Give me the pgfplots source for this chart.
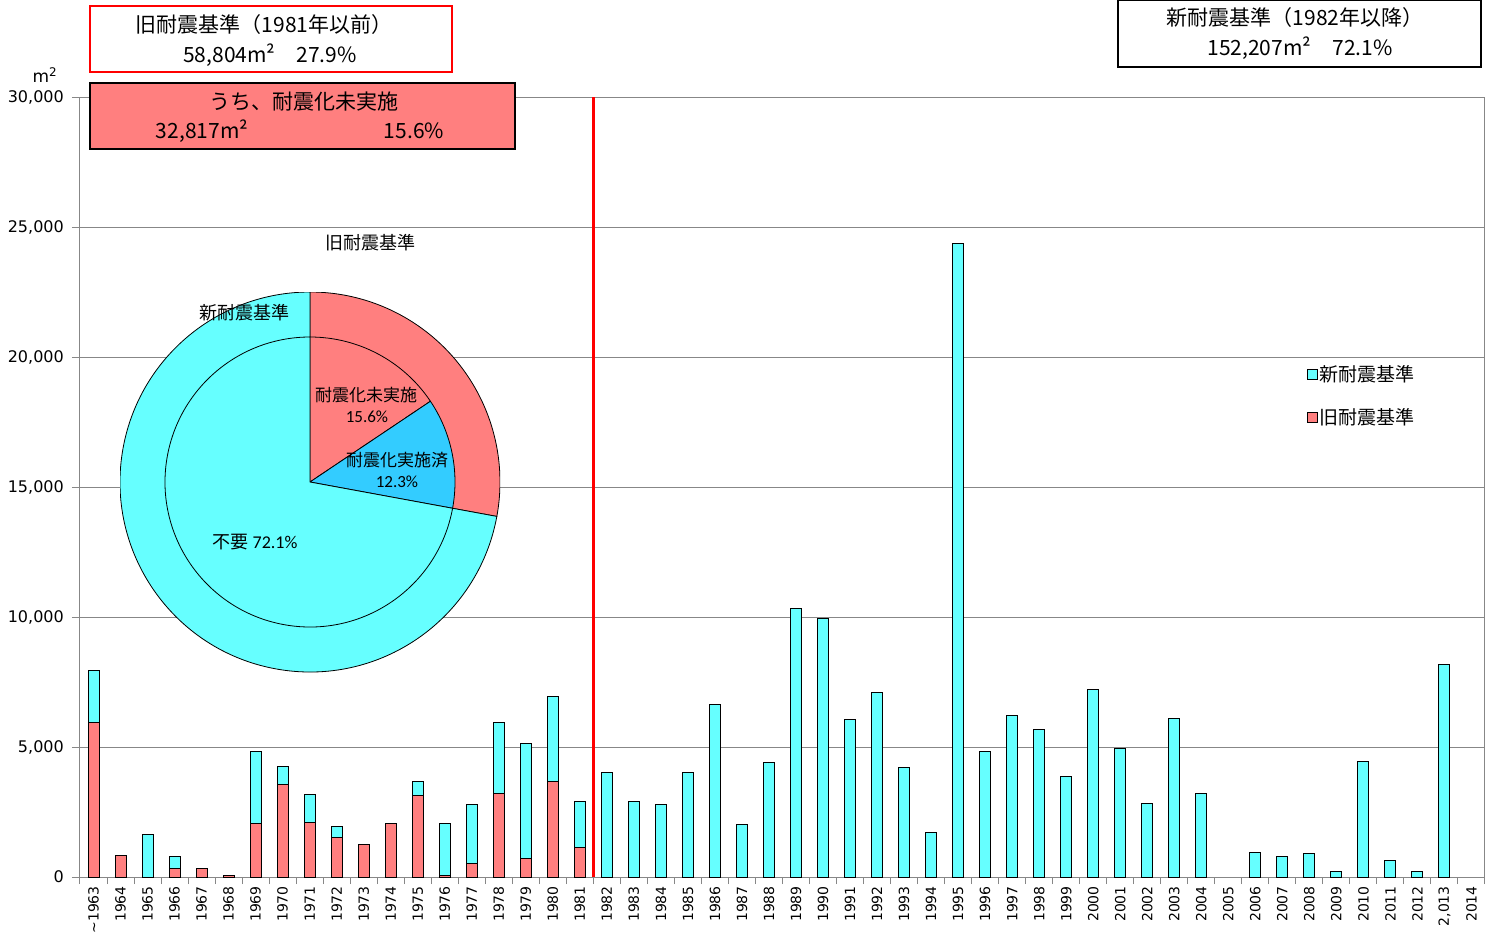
\documentclass[border=0pt]{standalone}
\usepackage{pgfplots}
\usepackage{pgfplotstable}
\pgfplotsset{compat=1.18}
\usepackage{fontspec}
\setmainfont{DejaVu Sans}
\newfontfamily\jp{Noto Sans CJK JP}
\newfontfamily\carl{Carlito}
\definecolor{cyanbar}{HTML}{66FFFF}
\definecolor{redbar}{HTML}{FF7F7F}
\definecolor{bluepie}{HTML}{33CCFF}
\definecolor{gridgray}{HTML}{878787}

% idx: 0 = ~1963 ... 51 = 2014 ; red = 旧耐震基準, cyan = 新耐震基準
\pgfplotstableread{
idx red cyan
0 5950 1980
1 820 0
2 0 1640
3 330 450
4 330 0
5 40 0
6 2040 2790
7 3540 700
8 2090 1100
9 1530 410
10 1240 0
11 2040 0
12 3140 540
13 40 2000
14 530 2250
15 3230 2710
16 730 4400
17 3680 3260
18 1130 1760
19 0 4030
20 0 2890
21 0 2790
22 0 4030
23 0 6650
24 0 2030
25 0 4390
26 0 10340
27 0 9950
28 0 6040
29 0 7090
30 0 4230
31 0 1730
32 0 24380
33 0 4840
34 0 6230
35 0 5690
36 0 3850
37 0 7230
38 0 4950
39 0 2840
40 0 6080
41 0 3230
43 0 930
44 0 790
45 0 890
46 0 230
47 0 4430
48 0 640
49 0 230
50 0 8190
}\bardata

\def\mishi{15.6}
\def\zumi{12.3}
\def\fuyo{72.1}

\begin{document}
\begin{tikzpicture}
\useasboundingbox (0,0) rectangle (1494pt,-947pt);
\begin{axis}[
  at={(80pt,-877pt)}, anchor=south west,
  scale only axis, width=1405pt, height=780pt,
  ybar stacked, bar width=11pt,
  xmin=-0.5, xmax=51.5, ymin=0, ymax=30000,
  xtick={0,...,51},
  xticklabels={\textasciitilde1963,1964,1965,1966,1967,1968,1969,1970,1971,1972,1973,1974,1975,1976,1977,1978,1979,1980,1981,1982,1983,1984,1985,1986,1987,1988,1989,1990,1991,1992,1993,1994,1995,1996,1997,1998,1999,2000,2001,2002,2003,2004,2005,2006,2007,2008,2009,2010,2011,2012,{2,013},2014},
  minor xtick={-0.5,0.5,...,51.5},
  ytick={0,5000,...,30000},
  tick pos=left, tick align=outside,
  major tick length=8pt, minor tick length=7pt,
  major x tick style={draw=none},
  minor x tick style={draw=gridgray, line width=1pt},
  major y tick style={draw=gridgray, line width=1pt},
  ymajorgrids, grid style={draw=gridgray, line width=1pt},
  axis line style={draw=gridgray, line width=1pt},
  x tick label style={rotate=90, anchor=east, font=\fontsize{14}{15}\selectfont, inner sep=1pt},
  y tick label style={font=\fontsize{16}{17}\selectfont, inner sep=1pt, xshift=-7pt},
  /pgf/number format/assume math mode=true,
  /pgf/number format/1000 sep={,},
  scaled y ticks=false,
  reverse legend,
  legend cell align=left,
  legend style={at={(0.873,0.659)}, anchor=north west, draw=none, fill=none,
    font=\jp\fontsize{19}{21}\selectfont, row sep=22pt, inner sep=0pt,
    /tikz/every even column/.append style={column sep=5pt}},
  legend image code/.code={\draw[#1,draw=black,line width=0.8pt] (0pt,-5pt) rectangle (10pt,5pt);},
]
\addplot[fill=redbar, draw=black, line width=1pt] table[x=idx, y=red] {\bardata};
\addlegendentry{旧耐震基準}
\addplot[fill=cyanbar, draw=black, line width=1pt] table[x=idx, y=cyan] {\bardata};
\addlegendentry{新耐震基準}
\draw[red, line width=3pt] (axis cs:18.5,0) -- (axis cs:18.5,30000);
\end{axis}

% doughnut / pie
\begin{axis}[
  at={(310pt,-482pt)}, anchor=center,
  scale only axis, width=380pt, height=380pt, hide axis,
  xmin=-190, xmax=190, ymin=-190, ymax=190,
]
\addplot[draw=none, forget plot] coordinates {(0,0)};
\filldraw[fill=redbar, draw=black, line width=0.8pt] (axis cs:0,0) -- ++(90:190pt)
  arc[start angle=90, end angle={90-3.6*(\mishi+\zumi)}, radius=190pt] -- cycle;
\filldraw[fill=cyanbar, draw=black, line width=0.8pt] (axis cs:0,0) -- ++({90-3.6*(\mishi+\zumi)}:190pt)
  arc[start angle={90-3.6*(\mishi+\zumi)}, end angle=-270, radius=190pt] -- cycle;
\filldraw[fill=redbar, draw=black, line width=0.8pt] (axis cs:0,0) -- ++(90:145pt)
  arc[start angle=90, end angle={90-3.6*\mishi}, radius=145pt] -- cycle;
\filldraw[fill=bluepie, draw=black, line width=0.8pt] (axis cs:0,0) -- ++({90-3.6*\mishi}:145pt)
  arc[start angle={90-3.6*\mishi}, end angle={90-3.6*(\mishi+\zumi)}, radius=145pt] -- cycle;
\filldraw[fill=cyanbar, draw=black, line width=0.8pt] (axis cs:0,0) -- ++({90-3.6*(\mishi+\zumi)}:145pt)
  arc[start angle={90-3.6*(\mishi+\zumi)}, end angle=-270, radius=145pt] -- cycle;
\end{axis}

% pie labels
\node[font=\jp\fontsize{18}{19}\selectfont] at (370pt,-243pt) {旧耐震基準};
\node[font=\jp\fontsize{18}{19}\selectfont] at (244pt,-313pt) {新耐震基準};
\node[font=\jp\fontsize{17}{18}\selectfont] at (366pt,-395pt) {耐震化未実施};
\node[font=\carl\fontsize{17}{18}\selectfont] at (367pt,-417pt) {15.6\%};
\node[font=\jp\fontsize{17}{18}\selectfont] at (397pt,-460pt) {耐震化実施済};
\node[font=\carl\fontsize{17}{18}\selectfont] at (397pt,-482pt) {12.3\%};
\node[font=\jp\fontsize{18}{19}\selectfont] at (255pt,-542pt) {不要 {\carl\fontsize{18}{19}\selectfont 72.1\%}};

% unit
\node[font=\fontsize{17}{18}\selectfont] at (45pt,-75pt) {m\textsuperscript{2}};

% top boxes
\draw[red, line width=1.5pt, fill=white] (90pt,-6pt) rectangle (452pt,-72pt);
\node[font=\jp\fontsize{21}{23}\selectfont] at (264pt,-25pt) {旧耐震基準（1981年以前）};
\node[font=\jp\fontsize{21}{23}\selectfont] at (270pt,-55pt) {58,804m²\quad 27.9\%};

\draw[black, line width=2pt, fill=redbar] (90pt,-83pt) rectangle (515pt,-149pt);
\node[font=\jp\fontsize{21}{23}\selectfont] at (304pt,-102pt) {うち、耐震化未実施};
\node[font=\jp\fontsize{21}{23}\selectfont] at (202pt,-131pt) {32,817m²};
\node[font=\jp\fontsize{21}{23}\selectfont] at (414pt,-131pt) {15.6\%};

\draw[black, line width=2pt, fill=white] (1118pt,0pt) rectangle (1481pt,-67pt);
\node[font=\jp\fontsize{21}{23}\selectfont] at (1295pt,-18pt) {新耐震基準（1982年以降）};
\node[font=\jp\fontsize{21}{23}\selectfont] at (1300pt,-48pt) {152,207m²\quad 72.1\%};
\end{tikzpicture}
\end{document}
